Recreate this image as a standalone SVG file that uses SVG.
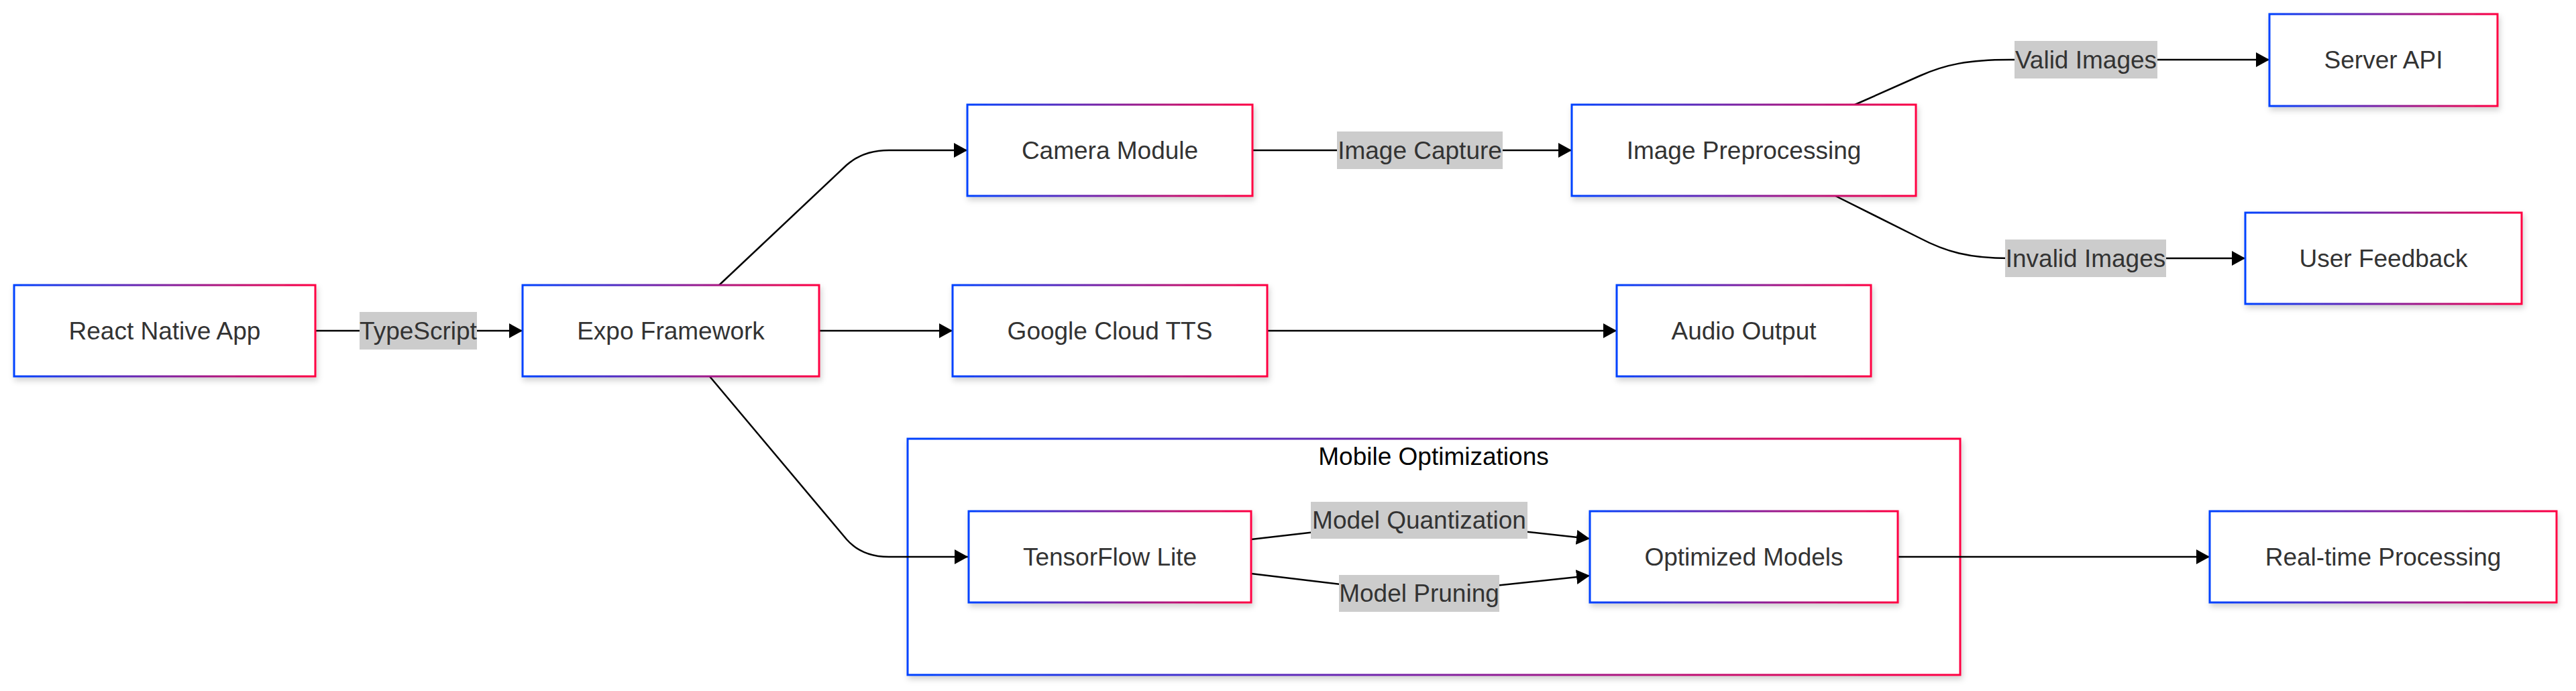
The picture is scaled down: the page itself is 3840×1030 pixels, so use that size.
<svg xmlns="http://www.w3.org/2000/svg" width="3840" height="1030" viewBox="0 0 3840 1030">
<style>
.node rect{fill:#fff;stroke:url(#grad);stroke-width:3;filter:url(#shadow)}
.node text{font-family:"Liberation Sans",Arial,sans-serif;font-size:37px;fill:#333;text-anchor:middle}
.edge{fill:none;stroke:#000;stroke-width:2.5;marker-end:url(#arrow)}
.lbl rect{fill:#ccc}
.lbl text{font-family:"Liberation Sans",Arial,sans-serif;font-size:37px;fill:#333;text-anchor:middle}
.cluster rect{fill:#fff;stroke:url(#grad);stroke-width:3;filter:url(#shadow)}
.cluster text{font-family:"Liberation Sans",Arial,sans-serif;font-size:37px;fill:#000;text-anchor:middle}
</style>
<defs>
<linearGradient id="grad" x1="0" y1="0" x2="1" y2="0">
<stop offset="0" stop-color="#0042ff"/>
<stop offset="1" stop-color="#ff0042"/>
</linearGradient>
<filter id="shadow" x="-10%" y="-10%" width="120%" height="130%">
<feDropShadow dx="2" dy="5" stdDeviation="4" flood-color="#000" flood-opacity="0.18"/>
</filter>
<marker id="arrow" markerUnits="userSpaceOnUse" markerWidth="20" markerHeight="22" refX="20" refY="11" orient="auto">
<path d="M0,0 L20,11 L0,22 z" fill="#000"/>
</marker>
</defs>
<rect width="3840" height="1030" fill="#fff"/>

<g id="cluster-mobile" class="cluster">
<rect x="1353" y="654" width="1569" height="352"/>
<text x="2137" y="693">Mobile Optimizations</text>
</g>

<g id="connectors">
<path class="edge" d="M470,493 L779,493"/>
<path class="edge" d="M1072,425 L1262,246 Q1287,224 1325,224 L1442,224"/>
<path class="edge" d="M1221,493 L1420,493"/>
<path class="edge" d="M1057,560 L1262,804 Q1285,830 1325,830 L1443,830"/>
<path class="edge" d="M1867,224 L2343,224"/>
<path class="edge" d="M2765,156 L2862,113 C2900,96 2935,89 2995,89 L3383,89"/>
<path class="edge" d="M2736,292 L2862,355 C2900,375 2935,385 2995,385 L3347,385"/>
<path class="edge" d="M1889,493 L2410,493"/>
<path class="edge" d="M1865,804 L2116,775 L2370,803"/>
<path class="edge" d="M1865,855 L2116,885 L2370,858"/>
<path class="edge" d="M2829,830 L3294,830"/>
<g class="lbl"><rect x="536" y="465" width="175" height="56"/><text x="623.5" y="506">TypeScript</text></g>
<g class="lbl"><rect x="1993" y="196" width="247" height="56"/><text x="2116.5" y="237">Image Capture</text></g>
<g class="lbl"><rect x="3003" y="61" width="213" height="56"/><text x="3109.5" y="102">Valid Images</text></g>
<g class="lbl"><rect x="2989" y="357" width="240" height="56"/><text x="3109" y="398">Invalid Images</text></g>
<g class="lbl"><rect x="1954" y="748" width="323" height="55"/><text x="2115.5" y="788">Model Quantization</text></g>
<g class="lbl"><rect x="1996" y="857" width="239" height="55"/><text x="2115.5" y="897">Model Pruning</text></g>
</g>

<g id="node-react" class="node"><rect x="21" y="425" width="449" height="136"/><text x="245.5" y="506">React Native App</text></g>
<g id="node-expo" class="node"><rect x="779" y="425" width="442" height="136"/><text x="1000" y="506">Expo Framework</text></g>
<g id="node-camera" class="node"><rect x="1442" y="156" width="425" height="136"/><text x="1654.5" y="237">Camera Module</text></g>
<g id="node-preproc" class="node"><rect x="2343" y="156" width="513" height="136"/><text x="2599.5" y="237">Image Preprocessing</text></g>
<g id="node-server" class="node"><rect x="3383" y="21" width="340" height="137"/><text x="3553" y="102">Server API</text></g>
<g id="node-feedback" class="node"><rect x="3347" y="317" width="412" height="136"/><text x="3553" y="398">User Feedback</text></g>
<g id="node-tts" class="node"><rect x="1420" y="425" width="469" height="136"/><text x="1654.5" y="506">Google Cloud TTS</text></g>
<g id="node-audio" class="node"><rect x="2410" y="425" width="379" height="136"/><text x="2599.5" y="506">Audio Output</text></g>
<g id="node-tflite" class="node"><rect x="1444" y="762" width="421" height="136"/><text x="1654.5" y="843">TensorFlow Lite</text></g>
<g id="node-optimized" class="node"><rect x="2370" y="762" width="459" height="136"/><text x="2599.5" y="843">Optimized Models</text></g>
<g id="node-realtime" class="node"><rect x="3294" y="762" width="517" height="136"/><text x="3552.5" y="843">Real-time Processing</text></g>
</svg>
